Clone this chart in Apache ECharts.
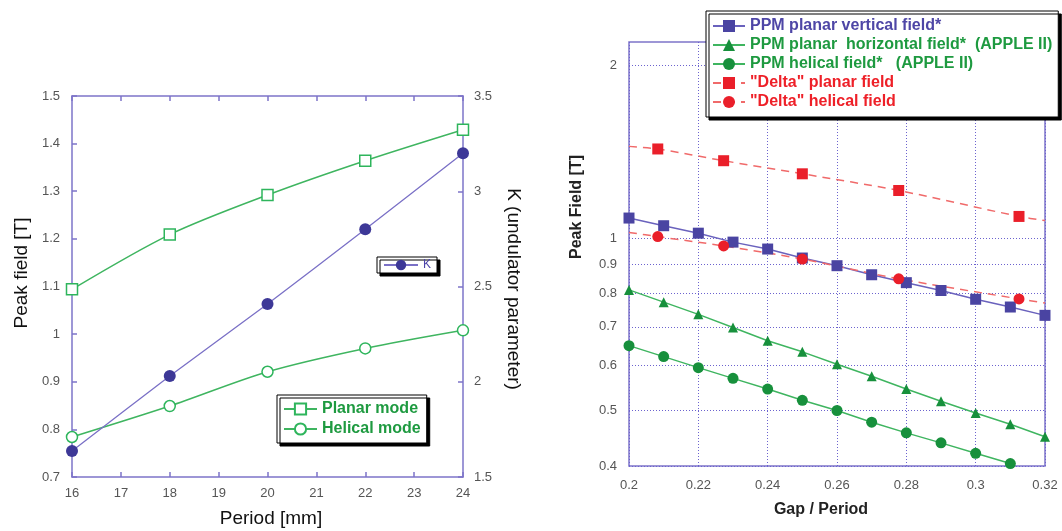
<!DOCTYPE html>
<html><head><meta charset="utf-8">
<script src="https://cdn.jsdelivr.net/npm/echarts@6/dist/echarts.min.js"></script>
<style>html,body{margin:0;padding:0;background:#fff}#c{width:1062px;height:531px}</style>
</head><body><div id="c"></div>
<script>
// ---- Left chart data ----
const periods = [16, 18, 20, 22, 24];
const planarMode = [1.094, 1.209, 1.292, 1.364, 1.429];
const helicalMode = [0.784, 0.849, 0.921, 0.970, 1.008];
const kValues = [1.636, 2.03, 2.408, 2.80, 3.20];

// ---- Right chart data ----
const gapRatio = [0.20, 0.21, 0.22, 0.23, 0.24, 0.25, 0.26, 0.27, 0.28, 0.29, 0.30, 0.31, 0.32];
const ppmVertical = [1.084, 1.051, 1.020, 0.984, 0.957, 0.923, 0.895, 0.863, 0.836, 0.810, 0.782, 0.758, 0.733];
const ppmHorizontal = [0.812, 0.773, 0.736, 0.698, 0.662, 0.633, 0.602, 0.574, 0.545, 0.519, 0.495, 0.473, 0.450];
const ppmHelical = [0.649, 0.621, 0.594, 0.569, 0.545, 0.521, 0.500, 0.477, 0.457, 0.439, 0.421, 0.404];
const deltaGapRatio = [0.2083, 0.2273, 0.25, 0.2778, 0.3125];
const deltaPlanar = [1.431, 1.365, 1.295, 1.211, 1.091];
const deltaHelical = [1.006, 0.969, 0.919, 0.849, 0.783];
const trendEndX = [0.2, 0.32];
const deltaPlanarTrendEnds = [1.446, 1.073];
const deltaHelicalTrendEnds = [1.023, 0.770];
const logTicks = [0.4, 0.5, 0.6, 0.7, 0.8, 0.9, 1, 2];

const legendNames = ['PPM planar vertical field*', 'PPM planar  horizontal field*  (APPLE II)', 'PPM helical field*   (APPLE II)', '"Delta" planar field', '"Delta" helical field'];

const FONT = "'Liberation Sans', Arial, Helvetica, sans-serif";
const AX = '#7d74c9';
const GRID = '#6c63cf';
const GREEN = '#17903c';
const GREEN_L = '#3fb560';
const BLUE = '#4a44a2';
const RED = '#ea1f2a';

const zip = (xs, ys) => ys.map((y, i) => [xs[i], y]);
function trendData(xs, ys, ends) {
  const d = [{ value: [trendEndX[0], ends[0]], symbol: 'none' }];
  xs.forEach((x, i) => d.push([x, ys[i]]));
  d.push({ value: [trendEndX[1], ends[1]], symbol: 'none' });
  return d;
}

const lbl = (extra) => Object.assign({ color: '#555', fontSize: 13, fontFamily: FONT }, extra || {});
const axLine = { show: true, lineStyle: { color: AX, width: 1.5 } };
const inTick = { show: true, inside: true, length: 5, lineStyle: { color: AX, width: 1.5 } };
const legendBox = { borderColor: '#000', borderWidth: 1, backgroundColor: '#fff', shadowColor: '#000', shadowOffsetX: 3, shadowOffsetY: 3, shadowBlur: 0, borderRadius: 0 };

const chart = echarts.init(document.getElementById('c'), null, { renderer: 'canvas' });
chart.setOption({
  animation: false,
  textStyle: { fontFamily: FONT },
  grid: [
    { left: 72, top: 96, width: 391, height: 381 },
    { left: 629, top: 42, width: 416, height: 424, show: true, borderColor: AX, borderWidth: 1.5, backgroundColor: 'transparent' }
  ],
  xAxis: [
    { gridIndex: 0, type: 'value', min: 16, max: 24, interval: 1, position: 'bottom', axisLine: axLine, axisTick: inTick, axisLabel: lbl({ margin: 10 }), splitLine: { show: false } },
    { gridIndex: 0, type: 'value', min: 16, max: 24, interval: 1, position: 'top', axisLine: axLine, axisTick: inTick, axisLabel: { show: false }, splitLine: { show: false } },
    { gridIndex: 1, type: 'value', min: 0.2, max: 0.32, interval: 0.02, axisLine: { show: false }, axisTick: { show: false }, axisLabel: lbl({ margin: 13 }), splitLine: { show: true, lineStyle: { color: GRID, type: [1, 2], width: 1 } } }
  ],
  yAxis: [
    { gridIndex: 0, type: 'value', min: 0.7, max: 1.5, interval: 0.1, position: 'left', axisLine: axLine, axisTick: inTick, axisLabel: lbl({ margin: 12 }), splitLine: { show: false } },
    { gridIndex: 0, type: 'value', min: 1.5, max: 3.5, interval: 0.5, position: 'right', axisLine: axLine, axisTick: inTick, axisLabel: lbl({ margin: 11 }), splitLine: { show: false } },
    { gridIndex: 1, type: 'log', min: 0.4, max: 2.2, axisLine: { show: false }, axisTick: { show: false, customValues: logTicks }, axisLabel: lbl({ margin: 12, customValues: logTicks }), splitLine: { show: true, lineStyle: { color: GRID, type: [1, 2], width: 1 } } }
  ],
  legend: [
    Object.assign({ data: ['K'], left: 377, top: 257, padding: [2, 6], itemWidth: 34, itemHeight: 13, textStyle: { color: '#4b43a8', fontSize: 12, fontFamily: FONT } }, legendBox),
    Object.assign({ data: ['Planar mode', 'Helical mode'], orient: 'vertical', left: 277, top: 395, padding: [6, 6], itemGap: 4, itemWidth: 33, itemHeight: 14, textStyle: { color: '#1e9a40', fontSize: 16, fontWeight: 'bold', fontFamily: FONT } }, legendBox),
    Object.assign({
      data: [
        { name: legendNames[0], textStyle: { color: '#4e46a6' } },
        { name: legendNames[1], textStyle: { color: '#1e9a40' } },
        { name: legendNames[2], textStyle: { color: '#1e9a40' } },
        { name: legendNames[3], textStyle: { color: '#ee2028' } },
        { name: legendNames[4], textStyle: { color: '#ee2028' } }
      ],
      orient: 'vertical', left: 706, top: 11, padding: [7, 6], itemGap: 3, itemWidth: 32, itemHeight: 15,
      textStyle: { fontSize: 16, fontWeight: 'bold', fontFamily: FONT }
    }, legendBox)
  ],
  series: [
    { name: 'Planar mode', type: 'line', xAxisIndex: 0, yAxisIndex: 0, data: zip(periods, planarMode), smooth: 0.3, symbol: 'rect', symbolSize: 11,
      itemStyle: { color: '#fff', borderColor: '#2eb55c', borderWidth: 1.5 }, lineStyle: { color: GREEN_L, width: 1.5 } },
    { name: 'Helical mode', type: 'line', xAxisIndex: 0, yAxisIndex: 0, data: zip(periods, helicalMode), smooth: 0.3, symbol: 'circle', symbolSize: 11,
      itemStyle: { color: '#fff', borderColor: '#2eb55c', borderWidth: 1.5 }, lineStyle: { color: GREEN_L, width: 1.5 } },
    { name: 'K', type: 'line', xAxisIndex: 0, yAxisIndex: 1, data: zip(periods, kValues), smooth: 0.2, symbol: 'circle', symbolSize: 12,
      itemStyle: { color: '#3d3897' }, lineStyle: { color: '#7a70c6', width: 1.3 } },

    { name: legendNames[0], type: 'line', xAxisIndex: 2, yAxisIndex: 2, data: zip(gapRatio, ppmVertical), symbol: 'rect', symbolSize: 11,
      itemStyle: { color: BLUE }, lineStyle: { color: '#6a62bd', width: 1.5 } },
    { name: legendNames[1], type: 'line', xAxisIndex: 2, yAxisIndex: 2, data: zip(gapRatio, ppmHorizontal), symbol: 'triangle', symbolSize: 10,
      itemStyle: { color: GREEN }, lineStyle: { color: GREEN_L, width: 1.5 } },
    { name: legendNames[2], type: 'line', xAxisIndex: 2, yAxisIndex: 2, data: zip(gapRatio, ppmHelical), symbol: 'circle', symbolSize: 11,
      itemStyle: { color: GREEN }, lineStyle: { color: GREEN_L, width: 1.5 } },
    { name: legendNames[3], type: 'line', xAxisIndex: 2, yAxisIndex: 2, data: trendData(deltaGapRatio, deltaPlanar, deltaPlanarTrendEnds), smooth: 0.3, symbol: 'rect', symbolSize: 11,
      itemStyle: { color: RED }, lineStyle: { color: '#f06a6a', width: 1.5, type: [8, 6] } },
    { name: legendNames[4], type: 'line', xAxisIndex: 2, yAxisIndex: 2, data: trendData(deltaGapRatio, deltaHelical, deltaHelicalTrendEnds), smooth: 0.3, symbol: 'circle', symbolSize: 11,
      itemStyle: { color: RED }, lineStyle: { color: '#f06a6a', width: 1.5, type: [8, 6] } }
  ],
  graphic: [
    { type: 'text', x: 22, y: 273, rotation: Math.PI / 2, style: { text: 'Peak field [T]', font: '19px ' + FONT, fill: '#111', align: 'center', verticalAlign: 'middle' } },
    { type: 'text', x: 513, y: 289, rotation: -Math.PI / 2, style: { text: 'K (undulator parameter)', font: '19px ' + FONT, fill: '#111', align: 'center', verticalAlign: 'middle' } },
    { type: 'text', x: 271, y: 519, style: { text: 'Period [mm]', font: '19px ' + FONT, fill: '#111', align: 'center', verticalAlign: 'middle' } },
    { type: 'text', x: 577, y: 207, rotation: Math.PI / 2, style: { text: 'Peak Field [T]', font: 'bold 16px ' + FONT, fill: '#222', align: 'center', verticalAlign: 'middle' } },
    { type: 'text', x: 821, y: 510, style: { text: 'Gap / Period', font: 'bold 16px ' + FONT, fill: '#222', align: 'center', verticalAlign: 'middle' } }
  ]
});
</script></body></html>
